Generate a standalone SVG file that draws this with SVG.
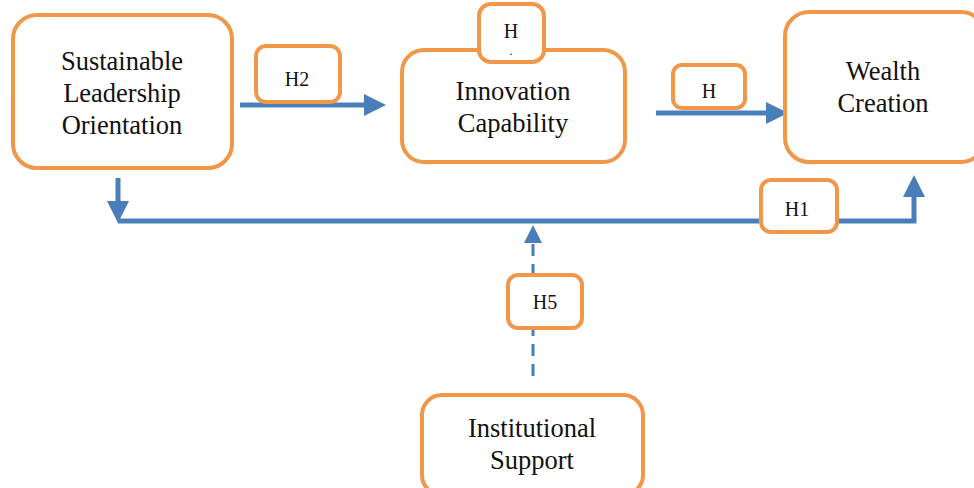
<svg xmlns="http://www.w3.org/2000/svg" width="974" height="488" viewBox="0 0 974 488">
<style>
.box{fill:#fff;stroke:#F0974A;stroke-width:4}
.t{font-family:"Liberation Serif","Times New Roman",serif;font-size:26.5px;fill:#111;text-anchor:middle}
.s{font-family:"Liberation Serif","Times New Roman",serif;font-size:20px;fill:#111;text-anchor:middle}
.ln{fill:none;stroke:#4A7EBB;stroke-width:5}
.dl{fill:none;stroke:#4A7EBB;stroke-width:3;stroke-dasharray:12 8}
</style>
<defs>
<marker id="ah" markerWidth="4.4" markerHeight="4.4" refX="0.8" refY="2.2" orient="auto" markerUnits="strokeWidth"><path d="M0,0 L4.4,2.2 L0,4.4 Z" fill="#4A7EBB"/></marker>
<marker id="ahd" markerWidth="6" markerHeight="6" refX="1" refY="3" orient="auto" markerUnits="strokeWidth"><path d="M0,0 L6,3 L0,6 Z" fill="#4A7EBB"/></marker>
</defs>
<rect width="974" height="488" fill="#fff"/>
<g id="connectors">
<path class="ln" d="M240,105 L368,105" marker-end="url(#ah)"/>
<path class="ln" d="M656,113 L770,113" marker-end="url(#ah)"/>
<path class="ln" d="M118,178 L118,205" marker-end="url(#ah)"/>
<path class="ln" d="M118,221 L914,221 L914,193" marker-end="url(#ah)"/>
<path class="dl" d="M533,376 L533,240" marker-end="url(#ahd)"/>
</g>
<g id="slo"><rect class="box" x="13" y="15" width="219" height="153" rx="24"/>
<text class="t" x="122" y="70">Sustainable</text><text class="t" x="122" y="102">Leadership</text><text class="t" x="122" y="134">Orientation</text></g>
<g id="ic"><rect class="box" x="402" y="50" width="223" height="112" rx="22"/>
<text class="t" x="513" y="100">Innovation</text><text class="t" x="513" y="132">Capability</text></g>
<g id="wc"><rect class="box" x="785" y="12" width="200" height="150" rx="24"/>
<text class="t" x="883" y="80">Wealth</text><text class="t" x="883" y="112">Creation</text></g>
<g id="is"><rect class="box" x="422" y="395" width="221" height="100" rx="20"/>
<text class="t" x="532" y="437">Institutional</text><text class="t" x="532" y="469">Support</text></g>
<g id="h2"><rect class="box" x="256" y="46" width="84" height="56" rx="10"/><text class="s" x="297" y="86">H2</text></g>
<g id="h3"><rect class="box" x="479" y="4" width="65" height="58" rx="12"/><text class="s" x="511" y="38">H</text><text class="s" x="511" y="55" style="font-size:12px">.</text></g>
<g id="h4"><rect class="box" x="673" y="65" width="72" height="43" rx="9"/><text class="s" x="709" y="98">H</text></g>
<g id="h1"><rect class="box" x="761" y="180" width="76" height="52" rx="10"/><text class="s" x="797" y="216">H1</text></g>
<g id="h5"><rect class="box" x="508" y="275" width="74" height="53" rx="10"/><text class="s" x="545" y="309">H5</text></g>
</svg>
